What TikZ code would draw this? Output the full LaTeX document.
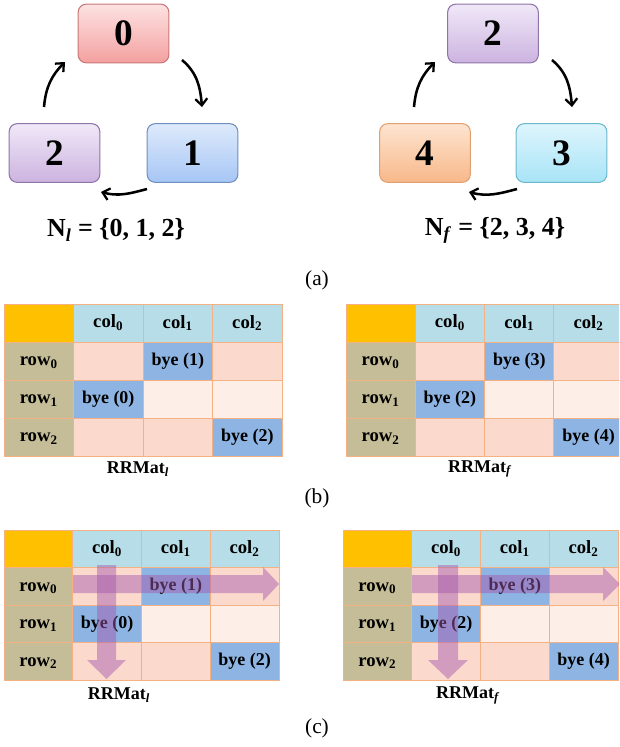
\documentclass[tikz,border=0pt]{standalone}
\usepackage{fontspec}
\setmainfont{Liberation Serif}
\usetikzlibrary{arrows.meta,shadings,calc}
\definecolor{cornerc}{HTML}{FFC000}
\definecolor{hdrc}{HTML}{B7DEE8}
\definecolor{rowc}{HTML}{C4BD97}
\definecolor{darkc}{HTML}{FBD9CC}
\definecolor{lightc}{HTML}{FDEEE8}
\definecolor{byec}{HTML}{8DB4E2}
\definecolor{gridc}{HTML}{F4B183}
\definecolor{purc}{RGB}{165,90,175}
\tikzset{
  proc/.style={draw, line width=0.8pt, rounded corners=6pt, minimum width=68pt, minimum height=44pt,
    font=\fontsize{28}{30}\selectfont\bfseries},
  redn/.style={proc, draw={rgb,255:red,200;green,120;blue,120}, top color={rgb,255:red,253;green,226;blue,226}, bottom color={rgb,255:red,244;green,160;blue,160}},
  bluen/.style={proc, draw={rgb,255:red,110;green,143;blue,192}, top color={rgb,255:red,222;green,234;blue,251}, bottom color={rgb,255:red,166;green,198;blue,245}},
  purn/.style={proc, draw={rgb,255:red,142;green,116;blue,168}, top color={rgb,255:red,240;green,232;blue,248}, bottom color={rgb,255:red,204;green,179;blue,224}},
  cyann/.style={proc, draw={rgb,255:red,107;green,183;blue,204}, top color={rgb,255:red,222;green,245;blue,253}, bottom color={rgb,255:red,168;green,228;blue,246}},
  orgn/.style={proc, draw={rgb,255:red,224;green,160;blue,112}, top color={rgb,255:red,253;green,228;blue,208}, bottom color={rgb,255:red,248;green,184;blue,138}},
  cyc/.style={line width=1.9pt, -{Straight Barb[length=5pt,width=9pt,line width=1.7pt]}},
  gridline/.style={draw=gridc, line width=0.7pt},
  celltxt/.style={font=\fontsize{13.5}{14}\selectfont\bfseries, inner sep=0pt},
  hdrtxt/.style={font=\fontsize{14}{15}\selectfont\bfseries, inner sep=0pt},
  setlbl/.style={font=\fontsize{19.5}{21}\selectfont\bfseries},
  matlbl/.style={font=\fontsize{13.5}{15}\selectfont\bfseries},
  sublbl/.style={font=\fontsize{16}{18}\selectfont},
  scanarrow/.style={fill=purc, fill opacity=0.48, draw=none}
}
\newcommand\sbb[1]{\textsubscript{\bfseries #1}}
\newcommand\rrtab[8]{%
  \begin{scope}[shift={(#1,#2)}]
    \fill[cornerc] (0,0) rectangle (#3,#4);
    \foreach \c in {1,2,3} \fill[hdrc] ({\c*#3},0) rectangle ({(\c+1)*#3},#4);
    \foreach \r in {1,2,3} \fill[rowc] (0,{\r*#4}) rectangle (#3,{(\r+1)*#4});
    \foreach \c in {1,2,3} {
      \fill[darkc] ({\c*#3},{#4}) rectangle ({(\c+1)*#3},{2*#4});
      \fill[lightc] ({\c*#3},{2*#4}) rectangle ({(\c+1)*#3},{3*#4});
      \fill[darkc] ({\c*#3},{3*#4}) rectangle ({(\c+1)*#3},{4*#4});
    }
    \fill[byec] ({2*#3},{#4}) rectangle ({3*#3},{2*#4});
    \fill[byec] ({1*#3},{2*#4}) rectangle ({2*#3},{3*#4});
    \fill[byec] ({3*#3},{3*#4}) rectangle ({4*#3},{4*#4});
    \foreach \r in {0,1,2,3} \foreach \c in {0,1,2,3}
      \draw[gridline] ({\c*#3},{\r*#4}) rectangle ({(\c+1)*#3},{(\r+1)*#4});
    \node[hdrtxt] (#5c0) at ({1.5*#3},{0.5*#4}) {col\sbb{0}};
    \node[hdrtxt] (#5c1) at ({2.5*#3},{0.5*#4}) {col\sbb{1}};
    \node[hdrtxt] (#5c2) at ({3.5*#3},{0.5*#4}) {col\sbb{2}};
    \node[hdrtxt] (#5r0) at ({0.5*#3},{1.55*#4}) {row\sbb{0}};
    \node[hdrtxt] (#5r1) at ({0.5*#3},{2.55*#4}) {row\sbb{1}};
    \node[hdrtxt] (#5r2) at ({0.5*#3},{3.55*#4}) {row\sbb{2}};
    \node[celltxt] (#5b0) at ({2.5*#3},{1.5*#4}) {bye (#6)};
    \node[celltxt] (#5b1) at ({1.5*#3},{2.5*#4}) {bye (#7)};
    \node[celltxt] (#5b2) at ({3.5*#3},{3.5*#4}) {bye (#8)};
  \end{scope}}
\begin{document}
\begin{tikzpicture}[x=0.75pt,y=-0.75pt]
\clip (0,0) rectangle (619,747);
\useasboundingbox (0,0) rectangle (619,747);
% ---------- (a) left cycle
\node[redn] (n0) at (123.5,33.5) {0};
\node[bluen] (n1) at (192.5,153) {1};
\node[purn] (n2) at (54.5,153) {2};
\coordinate (a01s) at (182,60);  \coordinate (a01e) at (202,107);
\coordinate (a12s) at (147,189); \coordinate (a12e) at (101,192);
\coordinate (a20s) at (44,107);  \coordinate (a20e) at (65,62);
\draw[cyc] (a01s) to[out=-40,in=95] (a01e);
\draw[cyc] (a12s) to[out=-165,in=-15] (a12e);
\draw[cyc] (a20s) to[out=85,in=-135] (a20e);
\node[setlbl] (nl) at (116,230) {N\textsubscript{\textbf{\textit{l}}} = \{0, 1, 2\}};
% ---------- (a) right cycle
\node[purn] (m2) at (493,33.5) {2};
\node[cyann] (m3) at (561.5,153) {3};
\node[orgn] (m4) at (425,153) {4};
\coordinate (b23s) at (552,60);  \coordinate (b23e) at (572,107);
\coordinate (b34s) at (517,189); \coordinate (b34e) at (469,192);
\coordinate (b42s) at (414,107); \coordinate (b42e) at (435,62);
\draw[cyc] (b23s) to[out=-40,in=95] (b23e);
\draw[cyc] (b34s) to[out=-165,in=-15] (b34e);
\draw[cyc] (b42s) to[out=85,in=-135] (b42e);
\node[setlbl] (nf) at (495,230) {N\textsubscript{\textbf{\textit{f}}} = \{2, 3, 4\}};
\node[sublbl] (la) at (317,280) {(a)};
% ---------- (b)
\rrtab{4}{304}{69.5}{38}{bl}{1}{0}{2}
\rrtab{346}{304}{69.3}{38}{br}{3}{2}{4}
\node[matlbl] (bml) at (138,469) {RRMat\textsubscript{\textbf{\textit{l}}}};
\node[matlbl] (bmr) at (480,469) {RRMat\textsubscript{\textbf{\textit{f}}}};
\node[sublbl] (lb) at (317,498) {(b)};
% ---------- (c)
\rrtab{4}{530}{68.75}{37.5}{cl}{1}{0}{2}
\rrtab{343}{530}{68.75}{37.5}{cr}{3}{2}{4}
\fill[scanarrow] (73,575) -- (263,575) -- (263,567) -- (279,584) -- (263,601) -- (263,593) -- (73,593) -- cycle;
\fill[scanarrow] (97,565) -- (116,565) -- (116,660) -- (126,660) -- (106.5,679) -- (87,660) -- (97,660) -- cycle;
\fill[scanarrow] (412,575) -- (603,575) -- (603,567) -- (620,584) -- (603,601) -- (603,593) -- (412,593) -- cycle;
\fill[scanarrow] (438,565) -- (458,565) -- (458,660) -- (468,660) -- (448,679) -- (428,660) -- (438,660) -- cycle;
\node[matlbl] (cml) at (119,695) {RRMat\textsubscript{\textbf{\textit{l}}}};
\node[matlbl] (cmr) at (468,695) {RRMat\textsubscript{\textbf{\textit{f}}}};
\node[sublbl] (lc) at (317,728) {(c)};
\end{tikzpicture}
\end{document}
